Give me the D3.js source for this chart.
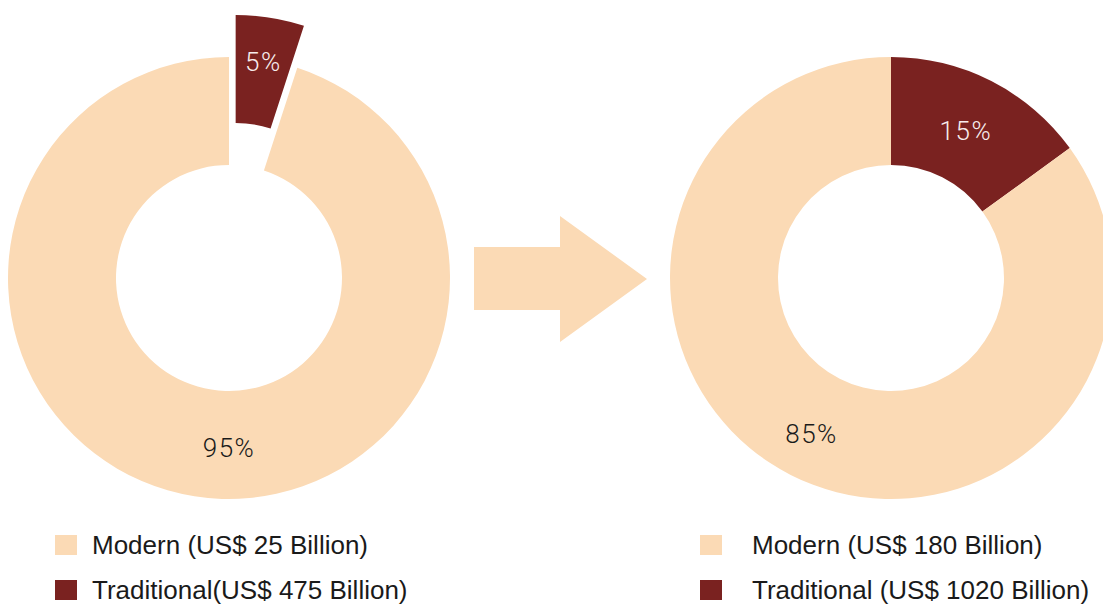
<!DOCTYPE html>
<html>
<head>
<meta charset="utf-8">
<script src="https://cdn.jsdelivr.net/npm/d3@7"></script>
<style>
  html, body { margin: 0; padding: 0; background: #fff; }
  svg { display: block; font-family: "Liberation Sans", Arial, sans-serif; }
</style>
</head>
<body>
<script>
// données
const categories = ["Modern", "Traditional"];
const leftValues = [95, 5];
const rightValues = [85, 15];
const leftLegend = ["Modern (US$ 25 Billion)", "Traditional(US$ 475 Billion)"];
const rightLegend = ["Modern (US$ 180 Billion)", "Traditional (US$ 1020 Billion)"];

const W = 1103, H = 604;
const colors = d3.scaleOrdinal().domain(categories).range(["#fbdab5", "#7a2220"]);
const labelColors = { Modern: "#1a1a1a", Traditional: "#f7ecec" };

const svg = d3.select("body").append("svg")
    .attr("width", W)
    .attr("height", H);

const outerR = 221, innerR = 113;

// la part traditionnelle commence en haut (0°), la moderne suit
const pie = d3.pie().sort(null).value(d => d.value)
    .startAngle(0).endAngle(2 * Math.PI);

function drawDonut(cx, cy, values, opts) {
    const data = categories.map((c, i) => ({ cat: c, value: values[i] })).reverse();
    const arcs = pie(data);
    const arc = d3.arc().innerRadius(innerR).outerRadius(outerR);

    const g = svg.append("g").attr("transform", `translate(${cx},${cy})`);

    arcs.forEach(a => {
        const mid = (a.startAngle + a.endAngle) / 2;
        const off = a.data.cat === "Traditional" ? opts.explode : 0;
        const dx = off * Math.sin(mid), dy = -off * Math.cos(mid);
        const piece = g.append("g").attr("transform", `translate(${dx},${dy})`);
        piece.append("path")
            .attr("d", arc(a))
            .attr("fill", colors(a.data.cat));

        const r = opts.labelR[a.data.cat];
        const ang = (a.data.cat === "Modern" && opts.modernLabelAngle != null) ? opts.modernLabelAngle : mid;
        piece.append("text")
            .attr("x", r * Math.sin(ang))
            .attr("y", -r * Math.cos(ang))
            .attr("dy", "0.36em")
            .attr("text-anchor", "middle")
            .attr("font-family", "Roboto, 'Liberation Sans', sans-serif")
            .attr("font-weight", 300)
            .attr("font-size", 26)
            .attr("letter-spacing", "1.5px")
            .attr("fill", labelColors[a.data.cat])
            .text(a.data.value + "%");
    });
}

drawDonut(229, 278, leftValues, { explode: 42.5, labelR: { Modern: 170, Traditional: 177 }, modernLabelAngle: Math.PI });
drawDonut(891, 278, rightValues, { explode: 0, labelR: { Modern: 175, Traditional: 165 } });

// flèche entre les deux
const arrow = [[474, 247], [560, 247], [560, 216], [647, 279], [560, 342], [560, 310], [474, 310]];
svg.append("path")
    .attr("d", d3.line()(arrow) + "Z")
    .attr("fill", colors("Modern"));

// légendes
function drawLegend(x, textX, labels) {
    const rowY = [545, 590];
    labels.forEach((t, i) => {
        const cat = categories[i];
        svg.append("rect")
            .attr("x", x)
            .attr("y", rowY[i] - 10)
            .attr("width", 22)
            .attr("height", 20)
            .attr("fill", colors(cat));
        svg.append("text")
            .attr("x", textX)
            .attr("y", rowY[i])
            .attr("dy", "0.36em")
            .attr("font-size", 26)
            .attr("fill", "#1a1a1a")
            .text(t);
    });
}

drawLegend(55, 92, leftLegend);
drawLegend(700, 752, rightLegend);
</script>
</body>
</html>
